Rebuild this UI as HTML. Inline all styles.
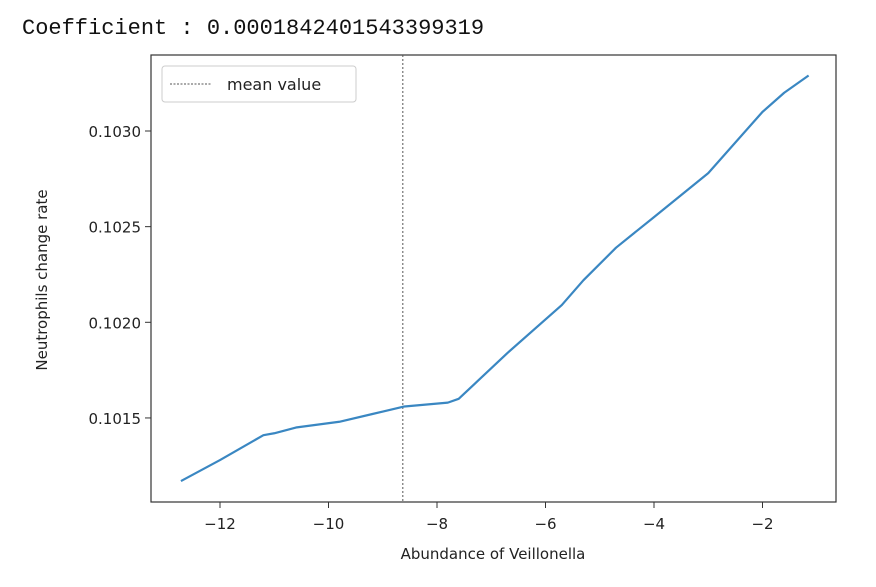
<!DOCTYPE html>
<html><head><meta charset="utf-8"><style>
body{margin:0;background:#fff;width:876px;height:582px;overflow:hidden}
svg text{font-family:"DejaVu Sans","Liberation Sans",sans-serif;fill:#222}
</style></head><body>
<svg width="876" height="582">
<text x="22" y="34" style="font-family:'Liberation Mono',monospace;font-size:22px;fill:#111">Coefficient : 0.0001842401543399319</text>
<g id="plot"></g>
</svg>
<script>
const xs=[-12.72,-12,-11.2,-11,-10.6,-9.8,-9.2,-8.6,-7.8,-7.6,-7.3,-6.7,-5.7,-5.3,-4.7,-4,-3,-2,-1.6,-1.15];
const ys=[0.10117,0.10128,0.10141,0.10142,0.10145,0.10148,0.10152,0.10156,0.10158,0.10160,0.10168,0.10184,0.10209,0.10222,0.10239,0.10255,0.10278,0.10310,0.10320,0.10329];
const xTicks=[-12,-10,-8,-6,-4,-2];
const yTicks=[0.1015,0.1020,0.1025,0.1030];
const meanX=-8.63;
const L=151,R=836,T=55,B=502;
const sx=v=>220+(v+12)*54.25;
const sy=v=>131+(0.1030-v)*191300;
const g=document.getElementById('plot');const NS='http://www.w3.org/2000/svg';
function el(t,a,txt){const e=document.createElementNS(NS,t);for(const k in a)e.setAttribute(k,a[k]);if(txt!=null)e.textContent=txt;g.appendChild(e);return e;}
let e=el('rect',{x:L,y:T,width:R-L,height:B-T,fill:'none',stroke:'#333','stroke-width':1.2});

xTicks.forEach(v=>{const x=sx(v);
e=el('line',{x1:x,x2:x,y1:B,y2:B+6,stroke:'#333'});
e=el('text',{x:x,y:B+27,'text-anchor':'middle','font-size':15},(v<0?'\u2212':'')+Math.abs(v));});
yTicks.forEach(v=>{const y=sy(v);
e=el('line',{x1:L-6,x2:L,y1:y,y2:y,stroke:'#333'});
e=el('text',{x:L-10,y:y+6,'text-anchor':'end','font-size':15},v.toFixed(4));});
e=el('line',{x1:sx(meanX),x2:sx(meanX),y1:T,y2:B,stroke:'#555','stroke-width':1,'stroke-dasharray':'2,2'});

e=el('polyline',{points:xs.map((x,i)=>sx(x)+','+sy(ys[i])).join(' '),fill:'none',stroke:'#3a87c2','stroke-width':2.2,'stroke-linejoin':'round'});

e=el('rect',{x:162,y:66,width:194,height:36,rx:3,fill:'#fff',stroke:'#ccc'});

e=el('line',{x1:170,x2:212,y1:84,y2:84,stroke:'#555','stroke-dasharray':'2,1.5'});

e=el('text',{x:227,y:90,'font-size':16},'mean value');

e=el('text',{x:493,y:559,'text-anchor':'middle','font-size':15},'Abundance of Veillonella');

e=el('text',{x:47,y:280,'text-anchor':'middle','font-size':15,transform:'rotate(-90 47 280)'},'Neutrophils change rate');

</script>
</body></html>
